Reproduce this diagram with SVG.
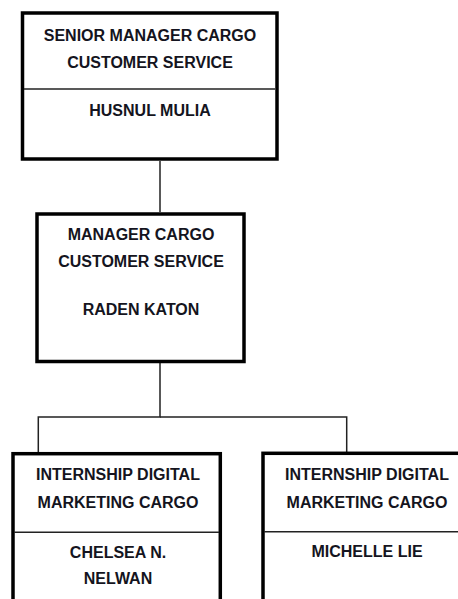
<svg xmlns="http://www.w3.org/2000/svg" width="458" height="599" viewBox="0 0 458 599">
<style>
.box{fill:#fff;stroke:#000;stroke-width:3.5}
.div{stroke:#222;stroke-width:1.5;fill:none}
.con{stroke:#222;stroke-width:1.5;fill:none}
text{font-family:"Liberation Sans",Arial,sans-serif;font-weight:bold;font-size:16px;fill:#141420;text-anchor:middle}
</style>
<rect width="458" height="599" fill="#fff"/>
<g id="connectors">
<line class="con" x1="160" y1="161" x2="160" y2="212"/>
<polyline class="con" points="160,363 160,417 38.3,417 38.3,452"/>
<polyline class="con" points="160,417 346.7,417 346.7,452"/>
</g>
<g id="senior">
<rect class="box" x="22.5" y="13" width="254.5" height="146"/>
<line class="div" x1="24" y1="89" x2="275" y2="89"/>
<text x="150" y="41">SENIOR MANAGER CARGO</text>
<text x="150" y="68">CUSTOMER SERVICE</text>
<text x="150" y="116">HUSNUL MULIA</text>
</g>
<g id="manager">
<rect class="box" x="37" y="214" width="207" height="147.5"/>
<text x="141" y="240">MANAGER CARGO</text>
<text x="141" y="267">CUSTOMER SERVICE</text>
<text x="141" y="315">RADEN KATON</text>
</g>
<g id="intern1">
<rect class="box" x="13" y="453.7" width="207.3" height="170"/>
<line class="div" x1="14" y1="532.3" x2="219" y2="532.3"/>
<text x="118" y="480">INTERNSHIP DIGITAL</text>
<text x="118" y="508">MARKETING CARGO</text>
<text x="118" y="558">CHELSEA N.</text>
<text x="118" y="584">NELWAN</text>
</g>
<g id="intern2">
<rect class="box" x="263" y="453.3" width="220" height="170"/>
<line class="div" x1="264" y1="531.8" x2="470" y2="531.8"/>
<text x="367" y="480">INTERNSHIP DIGITAL</text>
<text x="367" y="508">MARKETING CARGO</text>
<text x="367" y="557">MICHELLE LIE</text>
</g>
</svg>
